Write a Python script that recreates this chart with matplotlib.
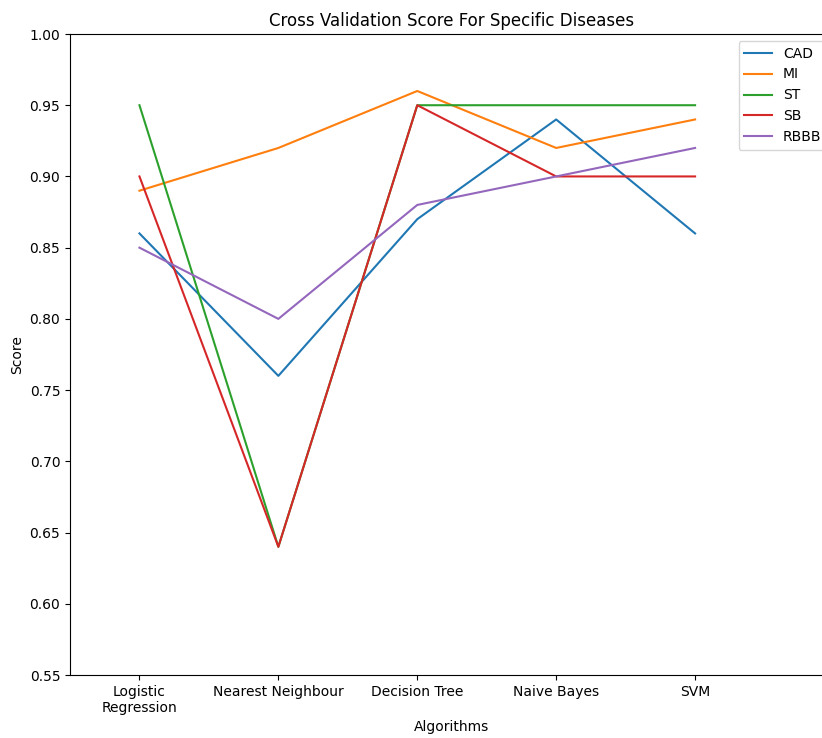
"""Cross validation scores per disease and algorithm."""

import matplotlib

matplotlib.use("Agg")

import matplotlib.pyplot as plt
import numpy as np

algorithms = [
    "Logistic\nRegression",
    "Nearest Neighbour",
    "Decision Tree",
    "Naive Bayes",
    "SVM",
]

cad = [0.86, 0.76, 0.87, 0.94, 0.86]
mi = [0.89, 0.92, 0.96, 0.92, 0.94]
st = [0.95, 0.64, 0.95, 0.95, 0.95]
sb = [0.90, 0.64, 0.95, 0.90, 0.90]
rbbb = [0.85, 0.80, 0.88, 0.90, 0.92]

series = {
    "CAD": cad,
    "MI": mi,
    "ST": st,
    "SB": sb,
    "RBBB": rbbb,
}

W, H = 822, 738
figure = plt.figure(figsize=(W / 100, H / 100), dpi=100)

# axes run a bit past the right edge of the picture, like the cropped original
left, right, top, bottom = 70, 834, 34, 675
axis = figure.add_axes(
    [left / W, 1 - bottom / H, (right - left) / W, (bottom - top) / H]
)

positions = np.arange(len(algorithms))
for name, values in series.items():
    axis.plot(positions, values, label=name, linewidth=1.5)

axis.set_xlim(-0.5, 5.0)
axis.set_ylim(0.55, 1.00)
axis.set_yticks(np.arange(0.55, 1.0001, 0.05))
axis.set_xticks(positions)
axis.set_xticklabels(algorithms)

axis.set_xlabel("Algorithms")
axis.set_ylabel("Score")
axis.set_title("Cross Validation Score For Specific Diseases")

axis.legend(loc="upper right")

figure.savefig("out.png", dpi=100)
